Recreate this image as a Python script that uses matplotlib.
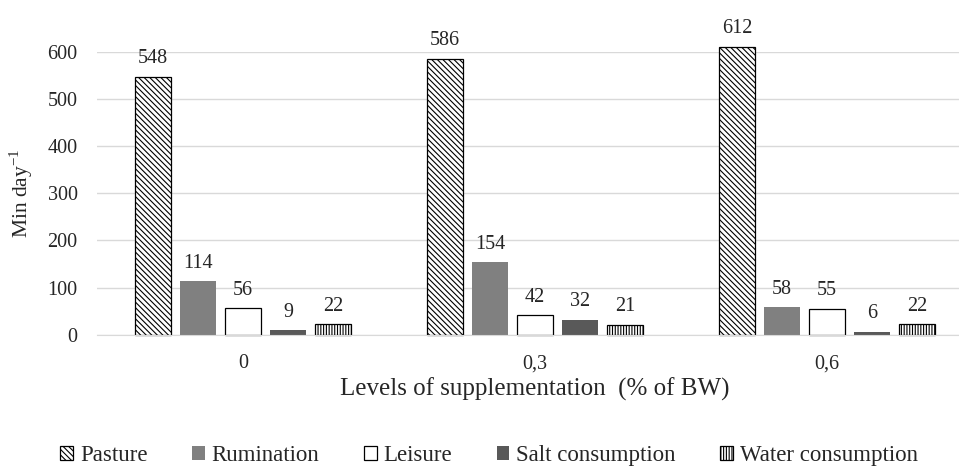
import matplotlib
matplotlib.use('Agg')
import matplotlib.pyplot as plt
import numpy as np

plt.rcParams['font.family'] = ['Liberation Serif', 'DejaVu Serif']
plt.rcParams['mathtext.fontset'] = 'custom'
plt.rcParams['mathtext.rm'] = 'Liberation Serif'
plt.rcParams['hatch.linewidth'] = 0.8

levels = ['0', '0,3', '0,6']
pasture = [548, 586, 612]
rumination = [114, 154, 58]
leisure = [56, 42, 55]
salt = [9, 32, 6]
water = [22, 21, 22]

series = [
    ('Pasture', pasture, dict(facecolor='white', edgecolor='black', hatch='\\\\\\\\\\\\', linewidth=0.9)),
    ('Rumination', rumination, dict(facecolor='#808080', edgecolor='#808080', linewidth=0)),
    ('Leisure', leisure, dict(facecolor='white', edgecolor='black', linewidth=0.9)),
    ('Salt consumption', salt, dict(facecolor='#595959', edgecolor='#595959', linewidth=0)),
    ('Water consumption', water, dict(facecolor='white', edgecolor='black', hatch='||||||', linewidth=0.9)),
]

fig = plt.figure(figsize=(9.59, 4.70), dpi=100)
ax = fig.add_axes([97/959, 0.288, 876/959, 0.601])

x = np.arange(len(levels))
pitch = 0.154
width = 0.123
for i, (name, vals, style) in enumerate(series):
    pos = x + (i - 2) * pitch
    bars = ax.bar(pos, vals, width, label=name, zorder=3, clip_on=False, **style)
    for b, v in zip(bars, vals):
        ax.annotate(str(v), (b.get_x() + b.get_width() / 2, v), xytext=(0, 6),
                    textcoords='offset points', ha='center', va='bottom',
                    fontsize=14.5, color='#262626', annotation_clip=False)

ax.set_xlim(-0.5, 2.5)
ax.set_ylim(0, 600)
ax.set_yticks(range(0, 700, 100))
ax.set_xticks(x)
ax.set_xticklabels(levels)
ax.tick_params(length=0, labelsize=14.5, labelcolor='#262626')
ax.tick_params(axis='y', pad=14)
ax.tick_params(axis='x', pad=14)
ax.grid(axis='y', color='#d9d9d9', linewidth=1, zorder=0)
for s in ['top', 'right', 'left']:
    ax.spines[s].set_visible(False)
ax.spines['bottom'].set_color('#d9d9d9')
ax.spines['bottom'].set_zorder(4)

ax.set_ylabel('Min day$^{\\mathregular{-1}}$', fontsize=15.5, labelpad=9, color='#262626')
ax.set_xlabel('Levels of supplementation  (% of BW)', fontsize=18, labelpad=3, color='#262626')

fig.legend(loc='lower center', ncol=5, frameon=False, fontsize=16.5,
           handlelength=0.55, handleheight=0.55, handletextpad=0.3,
           columnspacing=1.95, bbox_to_anchor=(0.51, -0.035),
           labelcolor='#262626')

fig.savefig('out.png', dpi=100)
